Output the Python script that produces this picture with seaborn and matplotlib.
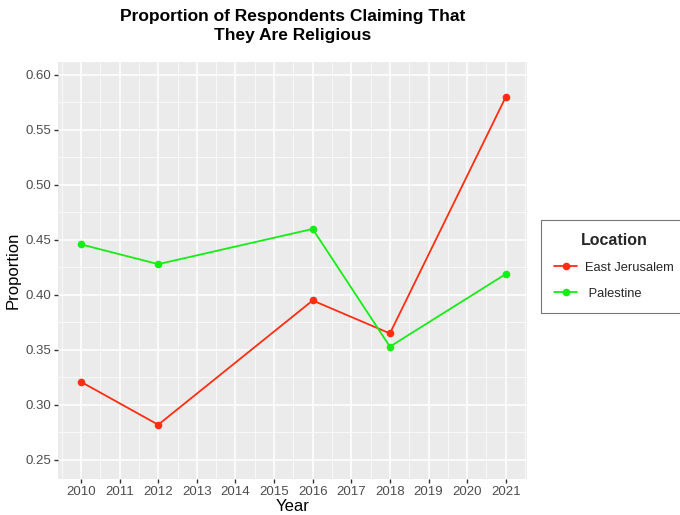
import pandas as pd
import seaborn as sns
import matplotlib.pyplot as plt
from matplotlib.ticker import MultipleLocator

sns.set_theme(style="darkgrid", rc={"axes.facecolor": "#EBEBEB", "grid.color": "white"})
plt.rcParams['font.family'] = ['Liberation Sans', 'DejaVu Sans']

# Values
years = [2010, 2012, 2016, 2018, 2021]
east_jerusalem = [0.321, 0.282, 0.395, 0.365, 0.580]
palestine = [0.446, 0.428, 0.460, 0.353, 0.419]
locations = ["East Jerusalem", "Palestine"]
colors = {"East Jerusalem": "#FF2E12", "Palestine": "#14EE14"}

df = pd.concat([
    pd.DataFrame({"Year": years, "Proportion": east_jerusalem, "Location": locations[0]}),
    pd.DataFrame({"Year": years, "Proportion": palestine, "Location": locations[1]}),
])

f = plt.figure(figsize=(6.8, 5.15), dpi=100)
ax = f.add_axes([0.085, 0.070, 0.690, 0.810])

sns.lineplot(data=df, x="Year", y="Proportion", hue="Location", palette=colors,
             marker="o", markersize=5.5, markeredgewidth=0, linewidth=1.3, ax=ax)

ax.set_xlim(2009.4, 2021.55)
ax.set_ylim(0.2327, 0.612)
ax.xaxis.set_major_locator(MultipleLocator(1))
ax.xaxis.set_minor_locator(MultipleLocator(0.5))
ax.yaxis.set_major_locator(MultipleLocator(0.05))
ax.yaxis.set_minor_locator(MultipleLocator(0.025))
ax.yaxis.set_major_formatter(plt.FormatStrFormatter("%.2f"))
ax.grid(which="major", color="white", linewidth=1.1)
ax.grid(which="minor", color="white", linewidth=0.5)
for s in ax.spines.values():
    s.set_visible(False)
ax.tick_params(axis="both", which="major", length=3, width=1, color="#333333",
               labelsize=9.5, labelcolor="#4D4D4D", bottom=True, left=True, pad=2)
ax.tick_params(which="minor", length=0)

ax.set_xlabel("Year", fontsize=12, color="black", labelpad=1)
ax.set_ylabel("Proportion", fontsize=12, color="black", labelpad=3)
ax.set_title("Proportion of Respondents Claiming That\nThey Are Religious",
             fontsize=12.5, fontweight="bold", color="black", pad=16, linespacing=1.3)

handles, labels = ax.get_legend_handles_labels()
leg = ax.legend(handles, [" " + l if l == "Palestine" else l for l in labels],
                title="Location", loc="center left", bbox_to_anchor=(1.022, 0.51),
                frameon=True, fontsize=9.3, title_fontproperties={"weight": "bold", "size": 11.5},
                handlelength=1.8, handletextpad=0.6, borderpad=1.0, labelspacing=1.1,
                borderaxespad=0.3, fancybox=False)
leg.get_frame().set_edgecolor("#555555")
leg.get_frame().set_facecolor("white")
leg.get_frame().set_linewidth(0.8)
leg._legend_box.sep = 10

f.savefig("out.png", dpi=100)
